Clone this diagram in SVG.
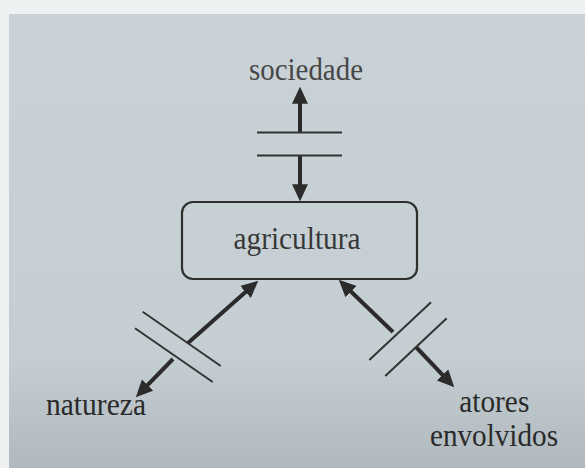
<svg xmlns="http://www.w3.org/2000/svg" width="585" height="468" viewBox="0 0 585 468">
  <defs>
    <linearGradient id="bg" x1="0" y1="0" x2="0" y2="1">
      <stop offset="0" stop-color="#c9d3d7"/>
      <stop offset="0.75" stop-color="#c5cfd3"/>
      <stop offset="1" stop-color="#b0b9bd"/>
    </linearGradient>
    <marker id="ah" markerUnits="userSpaceOnUse" markerWidth="17" markerHeight="16" viewBox="0 0 16 15" refX="11" refY="7.5" orient="auto">
      <path d="M0,0 L16,7.5 L0,15 z" fill="#2b2b2b"/>
    </marker>
    <style>
      .lbl { font-family: "Liberation Serif", "Times New Roman", Times, "DejaVu Serif", serif; font-size: 31px; fill: #2a2a2a; text-anchor: middle; }
      .shaft { stroke: #2b2b2b; stroke-width: 4; fill: none; marker-end: url(#ah); }
      .cut { stroke: #333; stroke-width: 2; fill: none; }
      .box { fill: none; stroke: #2e2e2e; stroke-width: 2.2; }
    </style>
  </defs>
  <rect x="0" y="0" width="585" height="468" fill="#eef1f2"/>
  <rect x="9" y="14" width="576" height="454" fill="url(#bg)"/>

  <g id="connectors">
    <line class="shaft" x1="300" y1="132" x2="300" y2="92"/>
    <line class="shaft" x1="300" y1="155" x2="300" y2="196"/>
    <line class="cut" x1="257" y1="132.5" x2="342" y2="132.5"/>
    <line class="cut" x1="257" y1="155.5" x2="342" y2="155.5"/>

    <line class="shaft" x1="188" y1="343" x2="254.3" y2="284.3"/>
    <line class="shaft" x1="173" y1="359" x2="139.5" y2="393.4"/>
    <line class="cut" x1="142.7" y1="311.7" x2="220.7" y2="366"/>
    <line class="cut" x1="135" y1="328.3" x2="212.7" y2="382"/>

    <line class="shaft" x1="393" y1="332" x2="342.6" y2="283.5"/>
    <line class="shaft" x1="416" y1="347" x2="450.6" y2="383.4"/>
    <line class="cut" x1="369.3" y1="360" x2="431" y2="302.3"/>
    <line class="cut" x1="385.3" y1="376" x2="446.7" y2="318.3"/>
  </g>

  <g id="sociedade">
    <text class="lbl" x="306" y="80" textLength="114" lengthAdjust="spacingAndGlyphs" style="fill:#474747">sociedade</text>
  </g>
  <g id="agricultura">
    <rect class="box" x="182" y="202" width="235" height="77" rx="11"/>
    <text class="lbl" x="297" y="249" textLength="127" lengthAdjust="spacingAndGlyphs" style="fill:#383838">agricultura</text>
  </g>
  <g id="natureza">
    <text class="lbl" x="96" y="415" textLength="100" lengthAdjust="spacingAndGlyphs">natureza</text>
  </g>
  <g id="atores">
    <text class="lbl" x="494.3" y="412" textLength="70" lengthAdjust="spacingAndGlyphs">atores</text>
    <text class="lbl" x="494" y="446" textLength="128" lengthAdjust="spacingAndGlyphs">envolvidos</text>
  </g>
</svg>
